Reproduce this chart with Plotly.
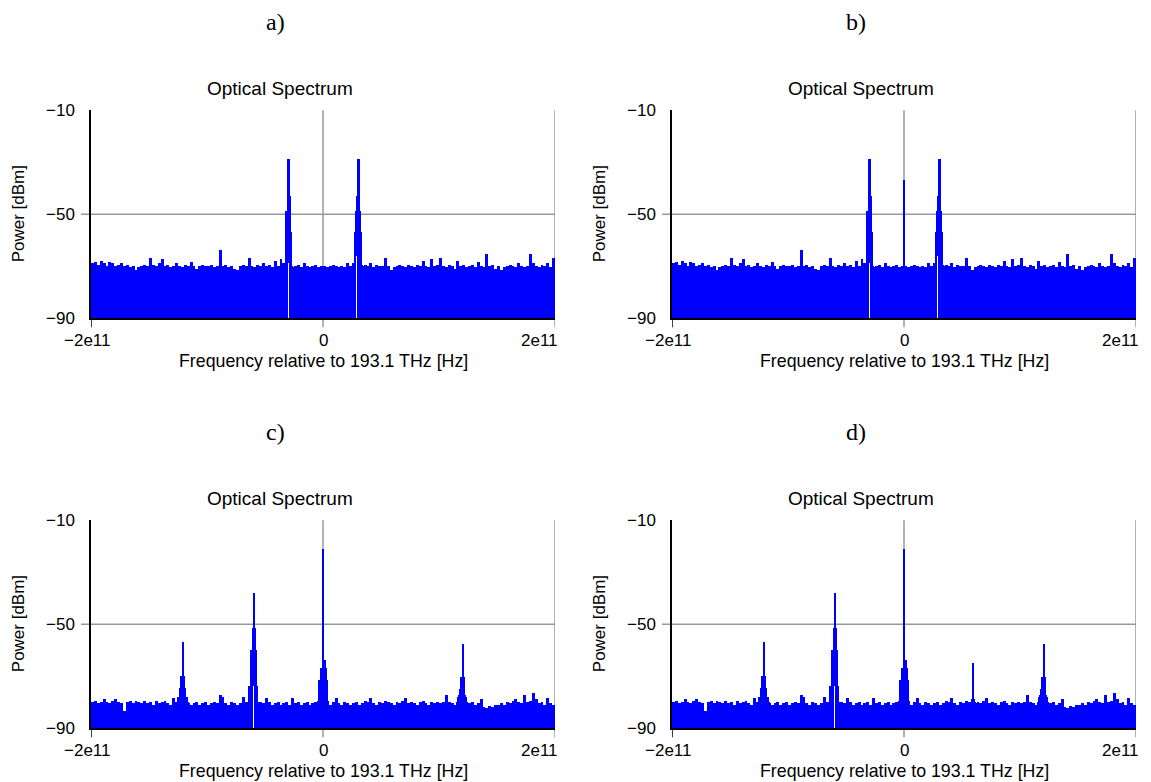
import plotly.graph_objects as go

W, H = 1151, 782
# measured mapping of the photographed page: picture_y = SY * figure_y + OY
SY, OY = 0.976, 8.6

# ---------------- data ----------------
F_MIN, F_MAX = -2e11, 2e11
N_BINS = 160
BIN_W = (F_MAX - F_MIN) / N_BINS          # 2.5 GHz noise bins
SUB_W = BIN_W / 3                          # fine columns around the tones
FLOOR = -90

bin_centers = [F_MIN + (i + 0.5) * BIN_W for i in range(N_BINS)]

# noise-floor envelope (top of the noise, dBm), panels a) and b)
noise_ab = [
    -69, -68.5, -69.5, -68, -69, -70, -68.5, -69, -70, -69.5,
    -69, -70, -69.5, -70.5, -70, -71.5, -70.5, -70, -69.5, -70,
    -67, -69.5, -70, -69, -67.5, -70, -69.5, -70.5, -70, -69,
    -70, -70.5, -69.5, -70, -68.5, -70, -71, -70, -69.5, -70,
    -70, -69.5, -70.5, -70, -64, -70, -69.5, -70.5, -70, -71,
    -71.5, -70, -69.5, -70, -67, -70, -70.5, -69.5, -70, -69,
    -70, -69.5, -70.5, -68, -70, -67.5, -69, -90, -90, -90,
    -70, -69.5, -70.5, -69, -70, -70.5, -70, -69.5, -70.5, -70,
    -70, -70.5, -70, -69.5, -70, -70.5, -70, -70.5, -69, -70,
    -69, -90, -90, -90, -69.5, -70, -69, -70.5, -69.5, -70,
    -70, -67, -70, -71.5, -70.5, -70, -69.5, -70, -70.5, -69.5,
    -70, -70.5, -69.5, -70, -68, -70, -70.5, -67.5, -70, -69.5,
    -67, -70, -70.5, -69.5, -70, -71, -68, -70, -69.5, -70.5,
    -70, -69.5, -70.5, -68.5, -70, -70.5, -65.5, -70, -69.5, -71,
    -70, -71.5, -70.5, -70, -69.5, -70, -70.5, -69, -70, -70.5,
    -70, -65.5, -69, -70, -70.5, -69.5, -70, -69, -70.5, -67,
]

# noise-floor envelope, panels c) and d)
noise_cd = [
    -80, -79.5, -80.5, -80, -79, -80, -80.5, -79.5, -79, -80,
    -80.5, -83.5, -80, -79.5, -80.5, -79.5, -80, -80.5, -79.5, -80.5,
    -80, -81, -79.5, -80.5, -80, -79.5, -80.5, -81, -78.5, -80,
    -80, -79.5, -80, -80.5, -81, -80.5, -80, -81, -80.5, -80,
    -81, -80.5, -80, -80.5, -77.5, -78, -80.5, -81, -80, -80.5,
    -81, -80.5, -78, -80, -90, -90, -90, -90, -80, -80.5,
    -78.5, -80, -81, -80.5, -80, -81, -80.5, -80, -81, -78.5,
    -80.5, -80, -81, -80.5, -80, -81, -80.5, -80, -80.5, -80,
    -80, -80.5, -81, -80, -78.5, -80.5, -81, -80, -80.5, -81,
    -80.5, -80, -81, -80.5, -79.5, -80, -78.5, -80.5, -81, -80,
    -80.5, -79.5, -80, -80.5, -81, -80, -80.5, -79.5, -78.5, -80.5,
    -80, -80.5, -81, -80, -79.5, -80.5, -81, -80, -80.5, -80,
    -80.5, -80, -77.5, -80, -80.5, -81, -80, -80.5, -79.5, -80,
    -80.5, -80, -81, -80.5, -79, -82, -82.5, -81.5, -82, -81,
    -81, -80.5, -81, -80, -80.5, -79.5, -79, -80, -80.5, -77.5,
    -80, -79.5, -76.5, -79, -80.5, -80, -81, -78.5, -80.5, -81,
]

# fine columns around the tones: frequency (Hz), top (dBm), bottom (dBm)
tone_ab_f = [-3.2083e10, -3.1250e10, -3.0417e10, -2.9583e10, -2.8750e10, -2.7917e10, -2.7083e10, -2.6250e10, -2.5417e10,
             2.7917e10, 2.8750e10, 2.9583e10, 3.0417e10, 3.1250e10, 3.2083e10, 3.2917e10, 3.3750e10, 3.4583e10]
tone_ab_top = [-49, -49, -29, -29, -43, -49, -57, -70, -70.5,
               -57, -49, -43, -29, -29, -49, -57, -69.5, -70]
tone_ab_low = [-90, -90, -69, -69, -90, -90, -90, -90, -90,
               -90, -66, -66, -90, -90, -90, -90, -90, -90]

carrier_b_f = [0.0]
carrier_b_top = [-37]
carrier_b_low = [-90]

tone_cd_f = [-12.4583e10, -12.3750e10, -12.2917e10, -12.2083e10, -12.1250e10, -12.0417e10,
             -11.9583e10, -11.8750e10, -11.7917e10, -11.7083e10, -11.6250e10, -11.5417e10,
             -6.4583e10, -6.3750e10, -6.2917e10, -6.2083e10, -6.1250e10, -6.0417e10,
             -5.9583e10, -5.8750e10, -5.7917e10, -5.7083e10, -5.6250e10, -5.5417e10,
             -0.4583e10, -0.3750e10, -0.2917e10, -0.2083e10, -0.1250e10, -0.0417e10,
             0.0417e10, 0.1250e10, 0.2083e10, 0.2917e10, 0.3750e10, 0.4583e10,
             11.5417e10, 11.6250e10, 11.7083e10, 11.7917e10, 11.8750e10, 11.9583e10,
             12.0417e10, 12.1250e10, 12.2083e10, 12.2917e10, 12.3750e10, 12.4583e10]
tone_cd_top = [-78, -78, -74.5, -70, -70, -57, -70, -74.5, -78, -78, -80, -80.5,
               -80, -74, -74, -60, -60, -51.5, -38, -51.5, -60, -74, -80, -80.5,
               -79.5, -79.5, -71.7, -71.7, -67, -67, -21.2, -64, -64, -67, -71.7, -79.5,
               -80, -78, -77.5, -75, -70.5, -70.5, -57.8, -70.5, -75, -77.5, -78, -80]
tone_cd_low = [-90] * 12 + [-90, -90, -90, -90, -90, -74, -74, -90, -90, -90, -90, -90] + [-90] * 24

tone_d_f = [5.7917e10, 5.8750e10, 5.9583e10, 6.0417e10, 6.1250e10, 6.2083e10]
tone_d_top = [-80, -78.8, -65, -78.8, -80, -80.5]
tone_d_low = [-90, -90, -90, -90, -90, -90]

panel_labels = ["a)", "b)", "c)", "d)"]
x_tick_vals = [-2e11, 0, 2e11]
x_tick_text = ["\u22122e11", "0", "2e11"]
y_tick_vals = [-10, -50, -90]

# ---------------- layout geometry (picture pixels) ----------------
# plot areas: (left, right, top, bottom)
areas = [(91, 555, 110, 318), (672, 1136, 110, 318),
         (91, 555, 520, 728), (672, 1136, 520, 728)]

BLUE = "#0000ff"
GRID = "#999999"
FONT = "Liberation Sans"


def px(x):
    return x / W


def py(y):
    return 1 - ((y - OY) / SY) / H


panels = [
    [noise_ab, (tone_ab_f, tone_ab_top, tone_ab_low)],
    [noise_ab, (tone_ab_f, tone_ab_top, tone_ab_low), (carrier_b_f, carrier_b_top, carrier_b_low)],
    [noise_cd, (tone_cd_f, tone_cd_top, tone_cd_low)],
    [noise_cd, (tone_cd_f, tone_cd_top, tone_cd_low), (tone_d_f, tone_d_top, tone_d_low)],
]

fig = go.Figure()
annotations = []
shapes = []

for k, (l, r, t, b) in enumerate(areas):
    sfx = "" if k == 0 else str(k + 1)
    xa, ya = "x" + sfx, "y" + sfx
    noise = panels[k][0]
    fig.add_trace(go.Bar(
        x=bin_centers, y=[v - FLOOR for v in noise], base=FLOOR, width=BIN_W,
        marker=dict(color=BLUE, line=dict(width=0)), xaxis=xa, yaxis=ya,
        showlegend=False, hoverinfo="skip"))
    # tone columns, tallest drawn last so the narrow spikes stay on top
    cols = []
    for f, top, low in panels[k][1:]:
        cols += list(zip(f, top, low))
    cols.sort(key=lambda c: c[1])
    fig.add_trace(go.Bar(
        x=[c[0] for c in cols], y=[c[1] - c[2] for c in cols], base=[c[2] for c in cols],
        width=SUB_W * 1.3,
        marker=dict(color=BLUE, line=dict(width=0)), xaxis=xa, yaxis=ya,
        showlegend=False, hoverinfo="skip"))

    common_x = dict(domain=[px(l), px(r)], range=[F_MIN, F_MAX], showgrid=False, zeroline=False,
                    showline=True, linecolor="black", linewidth=1.5, ticks="",
                    showticklabels=False, anchor=ya, fixedrange=True)
    common_y = dict(domain=[py(b), py(t)], range=[-90, -10], showgrid=False, zeroline=False,
                    showline=True, linecolor="black", linewidth=1.5,
                    tickvals=y_tick_vals, ticks="outside", ticklen=11, tickcolor="rgba(0,0,0,0)",
                    tickfont=dict(family=FONT, size=17, color="black"), anchor=xa, fixedrange=True)
    fig.update_layout(**{("xaxis" + sfx): common_x, ("yaxis" + sfx): common_y})

    xd, yd = xa + " domain", ya + " domain"
    ext = 9 / (b - t)
    extx = 10 / (r - l)
    shapes.append(dict(type="line", xref=xd, yref=ya, x0=-extx, x1=1, y0=-50, y1=-50,
                       line=dict(color=GRID, width=1.5), layer="below"))
    for xv in (0, 2e11):
        shapes.append(dict(type="line", xref=xa, yref=yd, x0=xv, x1=xv, y0=-ext, y1=1,
                           line=dict(color=GRID, width=1.5), layer="below"))
    shapes.append(dict(type="line", xref=xa, yref=yd, x0=-2e11, x1=-2e11, y0=-ext, y1=0,
                       line=dict(color="black", width=1.5), layer="above"))

    cx = (l + r) / 2
    # x tick labels
    for xv, txt, dx in zip(x_tick_vals, x_tick_text, (-4, 0, -16)):
        xpix = l + (xv - F_MIN) / (F_MAX - F_MIN) * (r - l) + dx
        annotations.append(dict(text=txt, x=px(xpix), y=py(b + 22), xref="paper", yref="paper",
                                showarrow=False, xanchor="center", yanchor="middle",
                                font=dict(family=FONT, size=17, color="black")))
    # title
    annotations.append(dict(text="Optical Spectrum", x=px(l + 189), y=py(t - 22), xref="paper", yref="paper",
                            showarrow=False, xanchor="center", yanchor="middle",
                            font=dict(family=FONT, size=19, color="black")))
    # x title
    annotations.append(dict(text="Frequency relative to 193.1 THz [Hz]", x=px(cx), y=py(b + 43),
                            xref="paper", yref="paper", showarrow=False, xanchor="center", yanchor="middle",
                            font=dict(family=FONT, size=17.8, color="black")))
    # y title
    annotations.append(dict(text="Power [dBm]", x=px(l - 73), y=py((t + b) / 2), xref="paper", yref="paper",
                            showarrow=False, xanchor="center", yanchor="middle", textangle=-90,
                            font=dict(family=FONT, size=17, color="black")))
    # panel label
    annotations.append(dict(text=panel_labels[k], x=px(l + 184), y=py(t - 88), xref="paper", yref="paper",
                            showarrow=False, xanchor="center", yanchor="middle",
                            font=dict(family="Liberation Serif", size=24, color="black")))

fig.update_layout(width=W, height=H, margin=dict(l=0, r=0, t=0, b=0),
                  paper_bgcolor="white", plot_bgcolor="white", barmode="overlay", bargap=0,
                  annotations=annotations, shapes=shapes, showlegend=False)

fig.write_html("out.html")
